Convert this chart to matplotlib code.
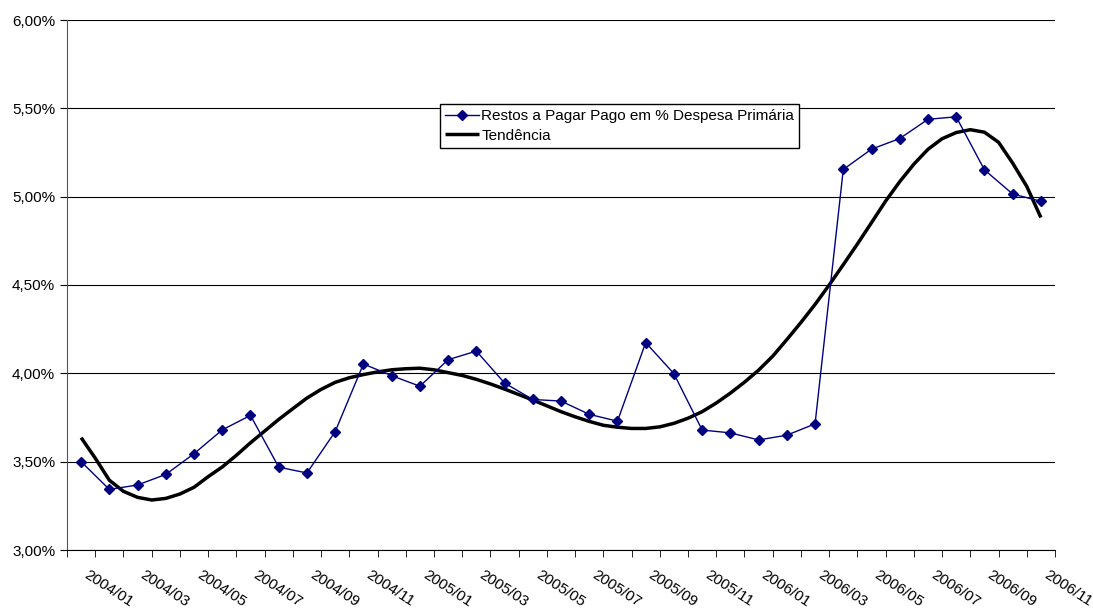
import matplotlib.pyplot as plt
from matplotlib.ticker import FuncFormatter
from matplotlib.transforms import ScaledTranslation

plt.rcParams['font.family'] = ['Liberation Sans', 'DejaVu Sans']

meses = ['2004/01', '2004/02', '2004/03', '2004/04', '2004/05', '2004/06', '2004/07',
         '2004/08', '2004/09', '2004/10', '2004/11', '2004/12',
         '2005/01', '2005/02', '2005/03', '2005/04', '2005/05', '2005/06', '2005/07',
         '2005/08', '2005/09', '2005/10', '2005/11', '2005/12',
         '2006/01', '2006/02', '2006/03', '2006/04', '2006/05', '2006/06', '2006/07',
         '2006/08', '2006/09', '2006/10', '2006/11']

# restos a pagar pago em % da despesa primaria
restos = [3.50, 3.343, 3.368, 3.428, 3.545, 3.680, 3.762, 3.469, 3.436, 3.670, 4.053, 3.987,
          3.927, 4.077, 4.126, 3.945, 3.852, 3.843, 3.768, 3.729, 4.174, 3.998, 3.679, 3.663,
          3.623, 3.650, 3.714, 5.154, 5.269, 5.329, 5.438, 5.452, 5.152, 5.015, 4.974]

tend_x = [i / 2 for i in range(69)]
tendencia = [3.636, 3.520, 3.395, 3.332, 3.298, 3.283, 3.292, 3.317, 3.355, 3.415,
             3.470, 3.536, 3.607, 3.673, 3.739, 3.800, 3.860, 3.909, 3.949, 3.975,
             3.993, 4.008, 4.020, 4.026, 4.029, 4.020, 4.004, 3.988, 3.966, 3.940,
             3.911, 3.880, 3.849, 3.816, 3.783, 3.754, 3.728, 3.706, 3.695, 3.688,
             3.688, 3.697, 3.717, 3.746, 3.783, 3.832, 3.888, 3.950, 4.018, 4.097,
             4.191, 4.288, 4.390, 4.500, 4.615, 4.732, 4.853, 4.975, 5.085, 5.184,
             5.268, 5.328, 5.363, 5.379, 5.365, 5.308, 5.190, 5.058, 4.882]

x = list(range(len(meses)))

fig = plt.figure(figsize=(10.93, 6.12), dpi=100)
ax = fig.add_axes([67 / 1093, 1 - 550 / 612, (1055 - 67) / 1093, (550 - 20) / 612])

ax.plot(x, restos, color='#000080', lw=1, marker='D', markersize=5,
        label='Restos a Pagar Pago em % Despesa Primária', zorder=3)
ax.plot(tend_x, tendencia, color='black', lw=2.5, label='Tendência', zorder=2,
        solid_joinstyle='round', solid_capstyle='butt')

ax.set_xlim(-0.5, len(meses) - 0.5)
ax.set_ylim(3.0, 6.0)
ax.set_yticks([3.0, 3.5, 4.0, 4.5, 5.0, 5.5, 6.0])
ax.yaxis.set_major_formatter(FuncFormatter(lambda v, p: f'{v:.2f}'.replace('.', ',') + '%'))
ax.grid(axis='y', color='black', lw=0.8)
ax.set_axisbelow(True)

ax.set_xticks(x[::2])
ax.set_xticklabels(meses[::2], rotation=-33, ha='left', va='top', rotation_mode='anchor')
ax.set_xticks([i - 0.5 for i in range(len(meses) + 1)], minor=True)
ax.tick_params(axis='x', which='major', length=0, pad=13, labelsize=11)
ax.tick_params(axis='x', which='minor', length=5, color='black')
ax.tick_params(axis='y', length=5, labelsize=11)
for lbl in ax.get_xticklabels():
    lbl.set_transform(lbl.get_transform() + ScaledTranslation(8 / 100, 0, fig.dpi_scale_trans))

ax.spines['top'].set_visible(False)
ax.spines['right'].set_visible(False)
ax.spines['left'].set_color('#555555')

ax.legend(loc='upper left', bbox_to_anchor=(440 / 1093, 1 - 104 / 612), bbox_transform=fig.transFigure,
          fancybox=False, edgecolor='black', framealpha=1, fontsize=11, borderaxespad=0,
          handlelength=2.2, handletextpad=0.15, borderpad=0.35, labelspacing=0.35)

fig.savefig('out.png', dpi=100)
